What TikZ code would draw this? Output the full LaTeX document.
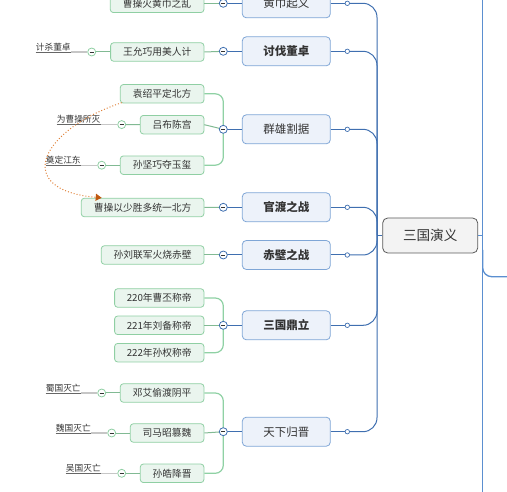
\documentclass[tikz,border=0pt]{standalone}
\usepackage{fontspec}
\newfontfamily\cjk{Noto Sans CJK SC}
\usetikzlibrary{arrows.meta}
\definecolor{mainborder}{HTML}{7FA6D6}
\definecolor{mainfill}{HTML}{EDF2FA}
\definecolor{trunk}{HTML}{3F6FB0}
\definecolor{rtrunk}{HTML}{5B8FD0}
\definecolor{grnline}{HTML}{8FD1A4}
\definecolor{grnborder}{HTML}{8FCFA3}
\definecolor{grnfill}{HTML}{EAF5EE}
\definecolor{txt}{HTML}{333333}
\definecolor{dotc}{HTML}{E0823A}
\definecolor{arrc}{HTML}{C0580F}
\definecolor{ctrfill}{HTML}{F3F3F3}
\definecolor{ctrborder}{HTML}{5A5A5A}
\tikzset{
  mainbox/.style={draw=mainborder, fill=mainfill, line width=0.8pt, rounded corners=4pt,
    minimum width=88pt, minimum height=29pt, inner sep=0pt, text=txt, font=\cjk\fontsize{11.5}{12}\selectfont},
  subbox/.style={draw=grnborder, fill=grnfill, line width=0.8pt, rounded corners=3pt,
    minimum height=18.5pt, inner sep=0pt, anchor=east, text=txt, font=\cjk\fontsize{9.75}{10}\selectfont},
  ctrbox/.style={draw=ctrborder, fill=ctrfill, line width=0.8pt, rounded corners=5pt,
    minimum width=95pt, minimum height=35pt, inner sep=0pt, text=txt, font=\cjk\fontsize{13.6}{14}\selectfont},
  tdot/.style={circle, draw=trunk, fill=white, line width=0.7pt, minimum size=4.5pt, inner sep=0pt},
  minusc/.style={circle, draw=#1, fill=white, line width=0.8pt, minimum size=8pt, inner sep=0pt,
    path picture={\draw[line width=0.8pt, txt] ([xshift=2pt]path picture bounding box.west) -- ([xshift=-2pt]path picture bounding box.east);}},
  lbl/.style={anchor=south west, inner xsep=0pt, inner ysep=1pt, text=txt, font=\cjk\fontsize{8.7}{9}\selectfont},
  tline/.style={draw=trunk, line width=1pt},
  gline/.style={draw=grnline, line width=1.2pt},
  glink/.style={draw=grnborder!90!black, line width=1pt},
  uline/.style={draw=gray!80!black, line width=0.7pt},
  uline2/.style={draw=gray!45, line width=1.2pt},
}
\begin{document}
\begin{tikzpicture}[x=1pt,y=-1pt]
\useasboundingbox (0,0) rectangle (507,492);
% right trunk
\coordinate (R0) at (482.7,0);
\coordinate (R1) at (482.7,492);
\coordinate (RB) at (507,276.7);
\draw[draw=rtrunk, line width=1.3pt] (R0) -- (R1);
\draw[draw=rtrunk, line width=1.3pt, rounded corners=9pt] (482.7,250) |- (RB);
% center
\node[ctrbox] (ctr) at (430.2,235.5) {三国演义};
\coordinate (RJ) at (482.7,235.5);
\draw[draw=rtrunk, line width=1.3pt] (ctr.east) -- (RJ);
\coordinate (J) at (377,235.5);
\draw[tline] (ctr.west) -- (J);
% main boxes
\node[mainbox] (m1) at (286.3,3.3) {黄巾起义};
\node[mainbox] (m2) at (286.3,51.3) {\bfseries 讨伐董卓};
\node[mainbox] (m3) at (286.3,129.3) {群雄割据};
\node[mainbox] (m4) at (286.3,207.3) {\bfseries 官渡之战};
\node[mainbox] (m5) at (286.3,255) {\bfseries 赤壁之战};
\node[mainbox] (m6) at (286.3,325.3) {\bfseries 三国鼎立};
\node[mainbox] (m7) at (286.3,431.7) {天下归晋};
% trunk dots and connectors
\foreach \i/\y in {1/3.3,2/51.3,3/129.3,4/207.3,5/255,6/325.3,7/431.7}{
  \coordinate (t\i) at (347.3,\y);
  \draw[tline, rounded corners=14pt] (J) |- (t\i);
  \draw[tline] (m\i.east) -- (t\i);
  \node[tdot] at (t\i) {};
}
% children
\node[subbox, minimum width=93.6pt] (s1) at (204.3,3.3) {曹操火黄巾之乱};
\node[subbox, minimum width=93.3pt] (s2) at (204.3,52) {王允巧用美人计};
\node[subbox, minimum width=83.6pt] (s3a) at (204.3,93.8) {袁绍平定北方};
\node[subbox, minimum width=63.6pt] (s3b) at (204.3,124.7) {吕布陈宫};
\node[subbox, minimum width=83.6pt] (s3c) at (204.3,165.2) {孙坚巧夺玉玺};
\node[subbox, minimum width=122.6pt] (s4) at (204.3,207.5) {曹操以少胜多统一北方};
\node[subbox, minimum width=102.6pt] (s5) at (204.3,255) {孙刘联军火烧赤壁};
\node[subbox, minimum width=89.3pt] (s6a) at (204.3,298) {220年曹丕称帝};
\node[subbox, minimum width=89.3pt] (s6b) at (204.3,325.3) {221年刘备称帝};
\node[subbox, minimum width=89.3pt] (s6c) at (204.3,352.7) {222年孙权称帝};
\node[subbox, minimum width=83.6pt] (s7a) at (204.3,393) {邓艾偷渡阴平};
\node[subbox, minimum width=73.6pt] (s7b) at (204.3,433) {司马昭篡魏};
\node[subbox, minimum width=63.6pt] (s7c) at (204.3,473.3) {孙皓降晋};
% group circles
\foreach \i/\y in {1/3.3,2/51.3,3/129.3,4/207.3,5/255,6/325.3,7/431.7}{
  \coordinate (gc\i) at (223.3,\y);
  \draw[tline] (gc\i) -- (m\i.west);
}
\draw[glink] (s1.east) -- (gc1);
\draw[glink] (s2.east) -- (gc2);
\draw[gline, rounded corners=8pt] (gc3) |- (s3a.east);
\draw[gline, rounded corners=8pt] (gc3) |- (s3c.east);
\draw[glink] (s3b.east) -- (gc3);
\draw[glink] (s4.east) -- (gc4);
\draw[glink] (s5.east) -- (gc5);
\draw[gline, rounded corners=8pt] (gc6) |- (s6a.east);
\draw[gline, rounded corners=8pt] (gc6) |- (s6c.east);
\draw[glink] (s6b.east) -- (gc6);
\draw[gline, rounded corners=8pt] (gc7) |- (s7a.east);
\draw[gline, rounded corners=8pt] (gc7) |- (s7c.east);
\draw[glink] (s7b.east) -- (gc7);
\foreach \i in {1,...,7}{ \node[minusc=trunk] at (gc\i) {}; }
% labels
\foreach \n/\cx/\cy/\lx/\t in {2/91.7/52/35.7/计杀董卓, 3b/121.7/124.6/56.7/为曹操所灭, 3c/101.7/165.2/45.7/奠定江东,
  7a/101.7/393/45.7/蜀国灭亡, 7b/111.7/433/55.7/魏国灭亡, 7c/121.7/473.3/65.7/吴国灭亡}{
  \node[minusc=grnborder] (c\n) at (\cx,\cy) {};
  \draw[glink] (c\n) -- (s\n.west);
  \node[lbl] (l\n) at (\lx,\cy) {\t};
  \draw[uline2] (l\n.south east) -- (c\n.west);
  \draw[uline] (l\n.south west) -- (l\n.south east);
}
% dotted relation
\coordinate (ds) at (121.7,102.7);
\coordinate (de) at (101.7,197.8);
\draw[draw=dotc, line width=1pt, dash pattern=on 1pt off 2pt,
  -{Triangle[length=6pt,width=7pt,fill=arrc,color=arrc]}]
  (ds) .. controls (40,130) and (12,190) .. (de);
\end{tikzpicture}
\end{document}
